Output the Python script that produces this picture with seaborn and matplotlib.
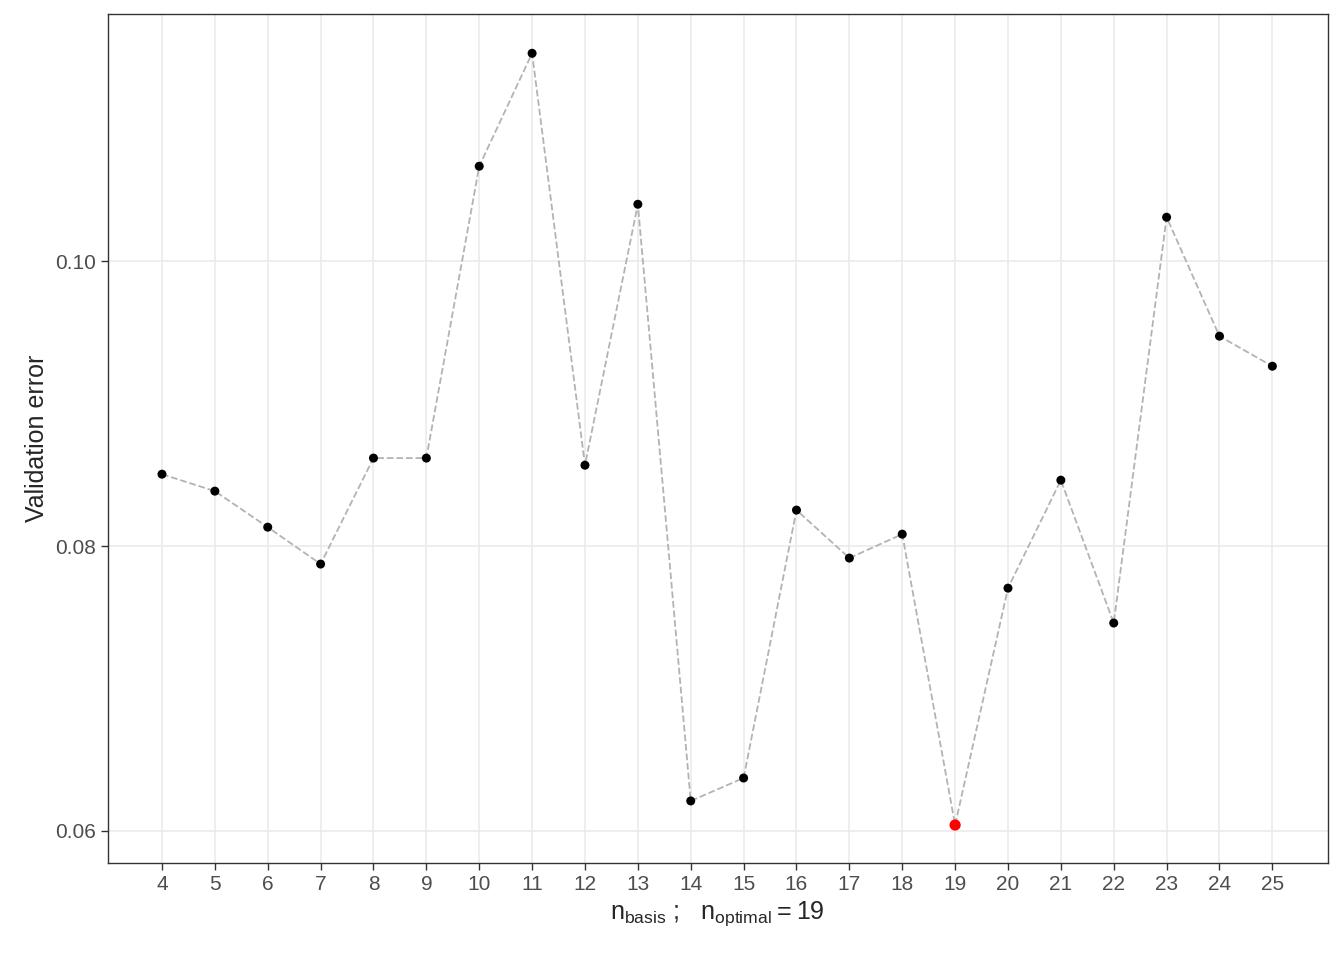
import numpy as np
import pandas as pd
import matplotlib
matplotlib.use("Agg")
import matplotlib.pyplot as plt
import seaborn as sns

n_basis = list(range(4, 26))
val_error = [0.08505, 0.08386, 0.08133, 0.07874, 0.08618, 0.08618, 0.10667, 0.11460,
             0.08568, 0.10400, 0.06211, 0.06372, 0.08253, 0.07916, 0.08084, 0.06042,
             0.07705, 0.08463, 0.07460, 0.10309, 0.09474, 0.09263]
n_optimal = 19

df = pd.DataFrame({"n": n_basis, "err": val_error})

sns.set_theme(style="whitegrid")
plt.rcParams["font.family"] = ["Liberation Sans", "DejaVu Sans"]
plt.rcParams["mathtext.fontset"] = "custom"
plt.rcParams["mathtext.rm"] = "Liberation Sans"

fig, ax = plt.subplots(figsize=(13.44, 9.6), dpi=100)
fig.subplots_adjust(left=0.080, right=0.988, top=0.985, bottom=0.101)

sns.lineplot(data=df, x="n", y="err", ax=ax, color="#b3b3b3", linestyle="--", linewidth=1.3, zorder=2)
sns.scatterplot(data=df, x="n", y="err", ax=ax, color="black", s=42, edgecolor="none", zorder=3)
best = df[df["n"] == n_optimal]
sns.scatterplot(data=best, x="n", y="err", ax=ax, color="red", s=65, edgecolor="none", zorder=4)

ax.set_xlim(2.97, 26.05)
ax.set_ylim(0.05775, 0.11733)
ax.set_xticks(n_basis)
ax.set_yticks([0.06, 0.08, 0.10])
ax.set_yticklabels(["0.06", "0.08", "0.10"])
ax.grid(True, color="#ebebeb", linewidth=1.2)
ax.set_axisbelow(True)
for s in ax.spines.values():
    s.set_color("#333333")
    s.set_linewidth(1.0)
ax.tick_params(axis="both", labelsize=15, colors="#4d4d4d", length=5, width=1, direction="out",
               bottom=True, left=True)
ax.tick_params(axis="both", color="#333333")
ax.set_xlabel(r"$\mathrm{n_{basis}}$ ;   $\mathrm{n_{optimal}} = 19$", fontsize=18)
ax.set_ylabel("Validation error", fontsize=18)

fig.savefig("out.png")
